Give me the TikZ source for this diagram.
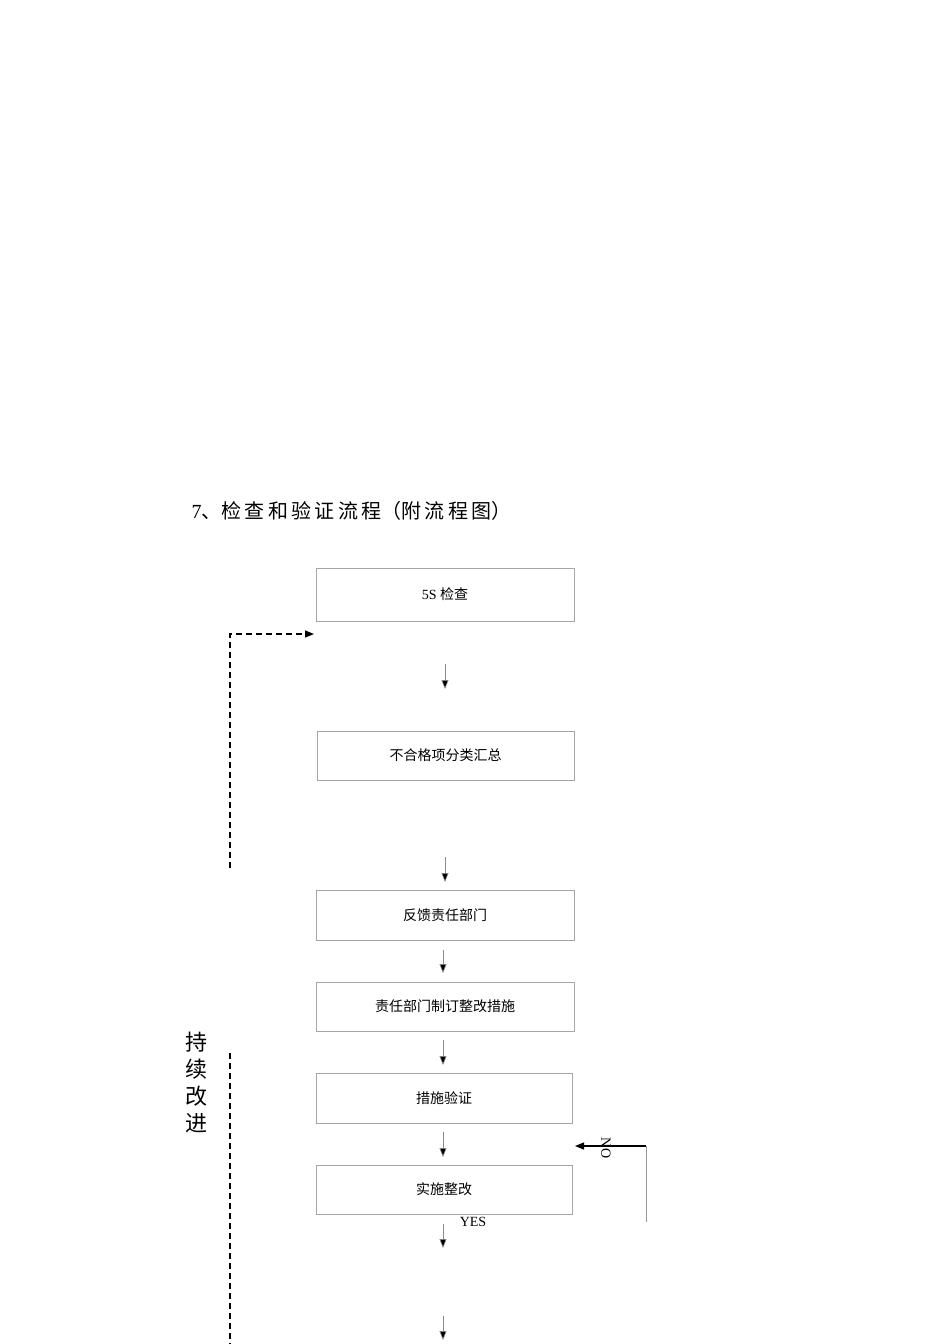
\documentclass[tikz,border=0pt]{standalone}
\usepackage{fontspec}
\setmainfont{Liberation Serif}
\newfontfamily\cjk{Noto Sans CJK SC}
\usetikzlibrary{arrows.meta}
\begin{document}
\begin{tikzpicture}[x=1pt,y=-1pt,
  box/.style={draw=black!35,line width=0.8pt,minimum width=258pt,minimum height=50pt,inner sep=0pt,font=\fontsize{14}{16}\selectfont},
  arr/.style={draw=black!45,line width=0.6pt,-{Triangle[length=9pt,width=7pt,fill=black]}},
  dsh/.style={line width=1.3pt,dash pattern=on 6pt off 4pt}]
\useasboundingbox (0,0) rectangle (950,1344);
\node[anchor=west,font=\fontsize{20}{22}\selectfont] (title) at (188,511) {7\cjk 、检\,查\,和\,验\,证\,流\,程（附\,流\,程\,图）};
\node[box,minimum height=53pt] (b1) at (445,594.5) {5S {\cjk 检查}};
\node[box,minimum width=257pt,minimum height=49pt] (b2) at (445.5,755.5) {\cjk 不合格项分类汇总};
\node[box] (b3) at (445,915) {\cjk 反馈责任部门};
\node[box,minimum height=49pt] (b4) at (445,1006.5) {\cjk 责任部门制订整改措施};
\node[box,minimum width=256pt] (b5) at (444,1098) {\cjk 措施验证};
\node[box,minimum width=256pt,minimum height=49pt] (b6) at (444,1189.5) {\cjk 实施整改};
\foreach \x/\a/\b [count=\i] in {445/664/689,445/857/882,443/950/973,443/1040/1065,443/1132/1157,443/1224/1248,443/1316/1340}{
  \coordinate (s\i) at (\x,\a); \coordinate (e\i) at (\x,\b);
  \draw[arr] (s\i) -- (e\i);}
\coordinate (d1) at (230,868); \coordinate (d2) at (230,634); \coordinate (d3) at (314,634);
\draw[dsh,-{Triangle[length=9pt,width=7pt]}] (d1) -- (d2) -- (d3);
\coordinate (d4) at (230,1053); \coordinate (d5) at (230,1344);
\draw[dsh] (d4) -- (d5);
\coordinate (n1) at (646,1222); \coordinate (n2) at (646,1146); \coordinate (n3) at (575,1146);
\draw[black!40,line width=0.6pt] (n1) -- (n2);
\draw[line width=1.2pt,-{Triangle[length=9pt,width=7pt]}] (n2) -- (n3);
\node[rotate=-90,font=\fontsize{14}{16}\selectfont] (no) at (606,1148) {NO};
\node[font=\fontsize{14}{16}\selectfont] (yes) at (473,1222) {YES};
\node[font=\fontsize{22}{27}\selectfont,align=center] (side) at (196,1082) {\cjk 持\\\cjk 续\\\cjk 改\\\cjk 进};
\end{tikzpicture}
\end{document}
